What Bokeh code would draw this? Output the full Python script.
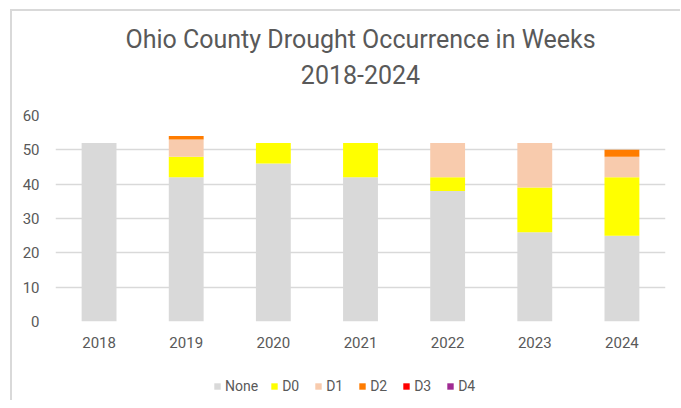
from bokeh.plotting import figure
from bokeh.layouts import column
from bokeh.models import FactorRange, Range1d, FixedTicker, Legend, Title
from bokeh.embed import file_html
from bokeh.resources import INLINE

years = ["2018", "2019", "2020", "2021", "2022", "2023", "2024"]
none_w = [52, 42, 46, 42, 38, 26, 25]
d0_w = [0, 6, 6, 10, 4, 13, 17]
d1_w = [0, 5, 0, 0, 10, 13, 6]
d2_w = [0, 1, 0, 0, 0, 0, 2]
d3_w = [0, 0, 0, 0, 0, 0, 0]
d4_w = [0, 0, 0, 0, 0, 0, 0]
series = ["None", "D0", "D1", "D2", "D3", "D4"]
colors = ["#d9d9d9", "#ffff00", "#f8cbad", "#ff7c00", "#ff0000", "#a02b93"]
y_ticks = [0, 10, 20, 30, 40, 50, 60]
title1 = "Ohio County Drought Occurrence in Weeks"
title2 = "2018-2024"

FONT = "Roboto"
TXT = "#595959"

data = {"year": years, "None": none_w, "D0": d0_w, "D1": d1_w,
        "D2": d2_w, "D3": d3_w, "D4": d4_w}

p = figure(x_range=FactorRange(factors=years, range_padding=0),
           y_range=Range1d(0, 60), width=668, height=349,
           output_backend="svg", toolbar_location=None,
           min_border_left=43, min_border_right=15, min_border_top=104,
           min_border_bottom=39)
p.outline_line_color = None

p.vbar_stack(series, x="year", width=0.4, color=colors, source=data,
             line_color=None)

p.add_layout(Title(text=" ", text_font_size="19px", standoff=0), "above")
p.add_layout(Title(text=title2, align="center", text_font=FONT,
                   text_font_size="25px", text_font_style="normal",
                   text_color=TXT, standoff=17), "above")
p.add_layout(Title(text=title1, align="center", text_font=FONT,
                   text_font_size="25px", text_font_style="normal",
                   text_color=TXT, standoff=2), "above")

p.xgrid.grid_line_color = None
p.ygrid.grid_line_color = "#d9d9d9"
p.ygrid.grid_line_width = 1.5
p.yaxis.ticker = FixedTicker(ticks=y_ticks)

for ax in (p.xaxis, p.yaxis):
    ax.axis_line_color = None
    ax.major_tick_line_color = None
    ax.minor_tick_line_color = None
    ax.major_label_text_font = FONT
    ax.major_label_text_font_size = "15px"
    ax.major_label_text_color = TXT
p.yaxis.major_label_standoff = 10
p.xaxis.major_label_standoff = 9

# legend in its own strip below the chart
lf = figure(x_range=FactorRange(factors=years), y_range=Range1d(1000, 1001),
            width=668, height=40, output_backend="svg", toolbar_location=None,
            x_axis_type=None, y_axis_type=None, min_border_left=0,
            min_border_right=0, min_border_top=0, min_border_bottom=0)
lf.outline_line_color = None
lf.grid.grid_line_color = None
lr = lf.vbar_stack(series, x="year", width=0.4, color=colors, source=data,
                   line_color=None)
items = [(s, [rr]) for s, rr in zip(series, lr)]
legend = Legend(items=items, orientation="horizontal", location=(158, 6),
                label_text_font=FONT, label_text_font_size="14px",
                label_text_color=TXT, glyph_width=8, glyph_height=8,
                label_standoff=4, spacing=12, padding=0, margin=0,
                border_line_color=None, background_fill_alpha=0)
lf.add_layout(legend, "center")

layout = column(p, lf, spacing=0)
layout.margin = (9, 0, 0, 10)
layout.styles = {"border-top": "2px solid #d9d9d9",
                 "border-left": "2px solid #d9d9d9"}
open("out.html", "w").write(file_html(layout, INLINE))
